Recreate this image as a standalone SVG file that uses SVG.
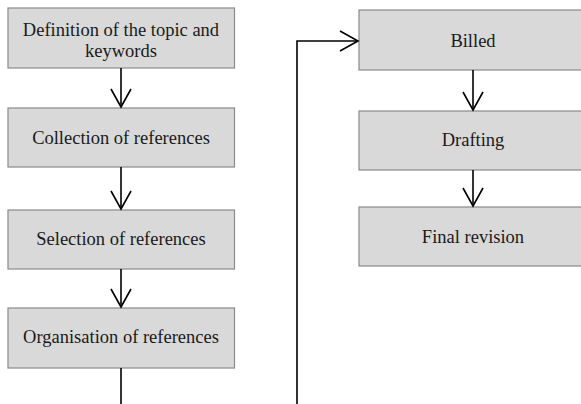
<svg xmlns="http://www.w3.org/2000/svg" width="581" height="404" viewBox="0 0 581 404">
<style>
.box{fill:#d9d9d9;stroke:#8a8a8a;stroke-width:1.2}
.lbl{font-size:18.5px;fill:#1a1a1a;text-anchor:middle}
.con{fill:none;stroke:#000;stroke-width:1.6}
</style>
<defs>
<marker id="ah" viewBox="-21 -12 23 24" refX="0" refY="0" markerWidth="23" markerHeight="24" markerUnits="userSpaceOnUse" orient="auto">
<path d="M-18,-10 L0,0 L-18,10" fill="none" stroke="#000" stroke-width="1.6"/>
</marker>
</defs>
<rect width="581" height="404" fill="#fff"/>
<g font-family="Liberation Serif, Tinos, DejaVu Serif, serif">
<g id="n1"><rect class="box" x="8" y="8" width="226.5" height="60"/><text class="lbl" x="121" y="36">Definition of the topic and</text><text class="lbl" x="121" y="57">keywords</text></g>
<g id="n2"><rect class="box" x="8" y="108" width="226.5" height="59"/><text class="lbl" x="121" y="144">Collection of references</text></g>
<g id="n3"><rect class="box" x="8" y="210" width="226.5" height="59"/><text class="lbl" x="121" y="245">Selection of references</text></g>
<g id="n4"><rect class="box" x="8" y="308" width="226.5" height="60"/><text class="lbl" x="121" y="343">Organisation of references</text></g>
<g id="n5"><rect class="box" x="359" y="10" width="228" height="60"/><text class="lbl" x="473" y="46.5">Billed</text></g>
<g id="n6"><rect class="box" x="359" y="111" width="228" height="59"/><text class="lbl" x="473" y="146">Drafting</text></g>
<g id="n7"><rect class="box" x="359" y="207" width="228" height="59"/><text class="lbl" x="473" y="243">Final revision</text></g>
</g>
<g id="connectors">
<path class="con" d="M121,68 V107" marker-end="url(#ah)"/>
<path class="con" d="M121,167 V209" marker-end="url(#ah)"/>
<path class="con" d="M121,269 V307" marker-end="url(#ah)"/>
<path class="con" d="M121,368 V404"/>
<path class="con" d="M297,404 V41 H358" marker-end="url(#ah)"/>
<path class="con" d="M473,70 V110" marker-end="url(#ah)"/>
<path class="con" d="M473,170 V206" marker-end="url(#ah)"/>
</g>
</svg>
